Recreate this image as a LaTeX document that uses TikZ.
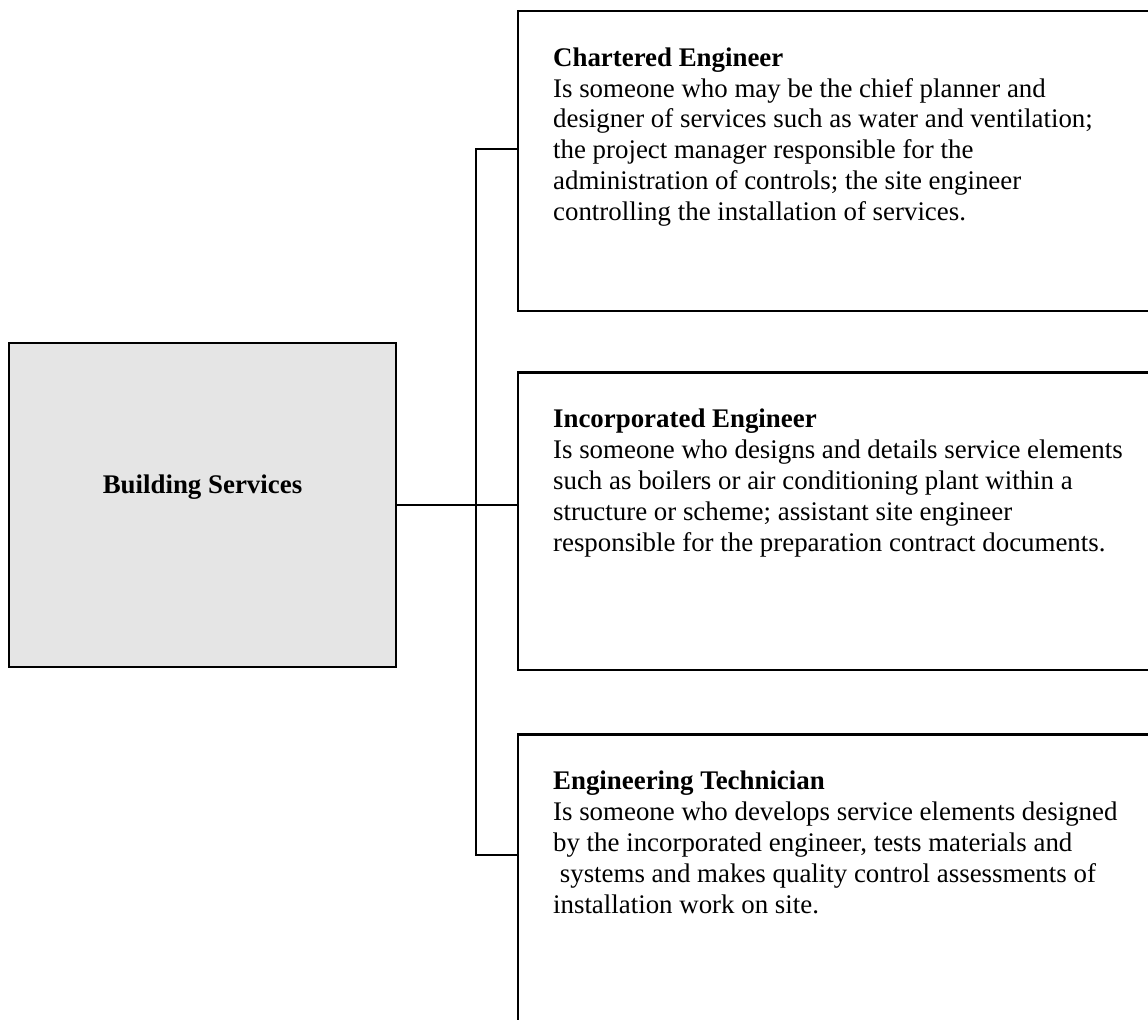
\documentclass[tikz,border=0pt]{standalone}
\usepackage{fontspec}
\setmainfont{Liberation Serif}
\usetikzlibrary{positioning, calc}
\newcommand{\role}[5][]{
  \node(#2)[
    role,
    #1
  ] {\parbox[c][#3][t]{12.26cm}{\raggedright
    \rule{0pt}{1.1cm}\textbf{#4}\\
    #5}};
}
\tikzset{
  role/.style = {
    draw,
    line width=1.3pt,
    anchor=north west,
    inner xsep=0.7cm,
    inner ysep=0pt,
    font=\fontsize{15.3}{17.6}\selectfont,
  },
  head/.style = {
    draw,
    fill=gray!20,
    line width=1.3pt,
    minimum width=7.74cm,
    inner sep=0pt,
    text height=3cm,
    text depth=3.48cm,
    font=\fontsize{15.3}{17.6}\selectfont\bfseries,
  },
  link/.style = {
    line width=1pt,
  },
}
\begin{document}
\begin{tikzpicture}[x=0.02cm, y=-0.02cm]
\useasboundingbox (0,0) rectangle (1148,1019);
\clip (0,0) rectangle (1148,1019);

\node (Services) [head] at (202.5,505) {Building Services};

\role[at={(517,10)}]{Chartered}{6cm}{Chartered Engineer}{
  Is someone who may be the chief planner and\\
  designer of services such as water and ventilation;\\
  the project manager responsible for the\\
  administration of controls; the site engineer\\
  controlling the installation of services.}

\role[below=1.18cm of Chartered.south west, anchor=north west]{Incorporated}{5.96cm}{Incorporated Engineer}{
  Is someone who designs and details service elements\\
  such as boilers or air conditioning plant within a\\
  structure or scheme; assistant site engineer\\
  responsible for the preparation contract documents.}

\role[below=1.24cm of Incorporated.south west, anchor=north west]{Technician}{8cm}{Engineering Technician}{
  Is someone who develops service elements designed\\
  by the incorporated engineer, tests materials and\\
  \hspace*{0.25em}systems and makes quality control assessments of\\
  installation work on site.}

\coordinate (upper) at (476,149);
\coordinate (lower) at (476,855);
\draw[link] (Chartered.west |- upper) -- (upper) -- (lower)
  -- (Technician.west |- lower);
\draw[link] (Services.east) -- (Services.east -| Incorporated.west);

\end{tikzpicture}
\end{document}
